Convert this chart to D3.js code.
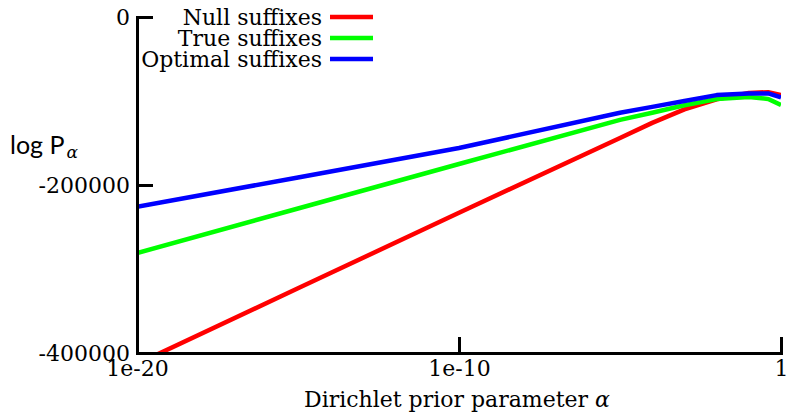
<!DOCTYPE html>
<html><head><meta charset="utf-8">
<script src="https://cdn.jsdelivr.net/npm/d3@7/dist/d3.min.js"></script>
<style>body{margin:0;background:#fff}svg{display:block}</style>
</head><body>
<script>
const alphas = [1e-20, 1e-15, 1e-10, 1e-5, 1e-4, 1e-3, 1e-2, 1e-1, 0.4, 1];
const nullSuffixes    = [-413000, -323000, -233000, -144000, -126000, -110000, -98000, -90500, -89500, -93000];
const trueSuffixes    = [-281000, -228000, -175000, -122500, -114000, -105000, -97600, -95200, -97600, -104800];
const optimalSuffixes = [-226000, -191000, -156000, -114000, -107000, -100000, -93000, -91000, -91000, -95800];
const seriesNames = ["Null suffixes", "True suffixes", "Optimal suffixes"];
const seriesColors = ["#ff0000", "#00ff00", "#0000ff"];
const xTicks = [1e-20, 1e-10, 1];
const xTickLabels = ["1e-20", "1e-10", "1"];
const yTicks = [0, -200000, -400000];

const W = 788, H = 412;
const m = {left: 137, right: 7, top: 17, bottom: 59};
const serif = "DejaVu Serif";
const FS = 22;
const svg = d3.select("body").append("svg").attr("width", W).attr("height", H);
const x = d3.scaleLog().domain([1e-20, 1]).range([m.left, W - m.right]);
const y = d3.scaleLinear().domain([-400000, 0]).range([H - m.bottom, m.top]);

svg.append("clipPath").attr("id", "clip").append("rect")
  .attr("x", m.left).attr("y", m.top).attr("width", W - m.right - m.left).attr("height", H - m.bottom - m.top);

const all = [nullSuffixes, trueSuffixes, optimalSuffixes];
const line = d3.line().x(d => x(d[0])).y(d => y(d[1]));
all.forEach((vals, i) => {
  svg.append("path").datum(alphas.map((a, j) => [a, vals[j]]))
    .attr("clip-path", "url(#clip)")
    .attr("fill", "none").attr("stroke", seriesColors[i]).attr("stroke-width", 4.5)
    .attr("stroke-linejoin", "round").attr("d", line);
});

// axes
const yAxis = d3.axisLeft(y).tickValues(yTicks).tickSize(-16).tickPadding(7).tickFormat(d => d === 0 ? "0" : String(d));
const gy = svg.append("g").attr("transform", `translate(${m.left},0)`).call(yAxis);
const xAxis = d3.axisBottom(x).tickValues(xTicks).tickSize(-16).tickPadding(7).tickFormat((d, i) => xTickLabels[i]);
const gx = svg.append("g").attr("transform", `translate(0,${H - m.bottom})`).call(xAxis);
[gx, gy].forEach(g => {
  g.attr("font-family", serif).attr("font-size", FS);
  g.select(".domain").attr("stroke", "#000").attr("stroke-width", 3);
  g.selectAll(".tick line").attr("stroke", "#000").attr("stroke-width", 3);
  g.selectAll(".tick text").attr("font-family", serif).attr("font-size", FS).attr("fill", "#000");
});

svg.append("text").attr("x", 457).attr("y", 407).attr("text-anchor", "middle")
  .attr("font-family", serif).attr("font-size", FS)
  .html("Dirichlet prior parameter <tspan font-style='italic'>α</tspan>");

const yl = svg.append("text").attr("x", 10).attr("y", 154).attr("font-family", "Lato").attr("font-size", 25);
yl.append("tspan").text("log P");
yl.append("tspan").attr("font-family", serif).attr("font-size", 17).attr("font-style", "italic").attr("dx", 2).attr("dy", 4).text("α");

// legend
const legY = [17, 38, 59];
seriesNames.forEach((n, i) => {
  svg.append("text").attr("x", 322).attr("y", legY[i]).attr("dy", "0.36em").attr("text-anchor", "end")
    .attr("font-family", serif).attr("font-size", FS).text(n);
  svg.append("line").attr("x1", 330).attr("x2", 373).attr("y1", legY[i]).attr("y2", legY[i])
    .attr("stroke", seriesColors[i]).attr("stroke-width", 4.5);
});
</script>
</body></html>
